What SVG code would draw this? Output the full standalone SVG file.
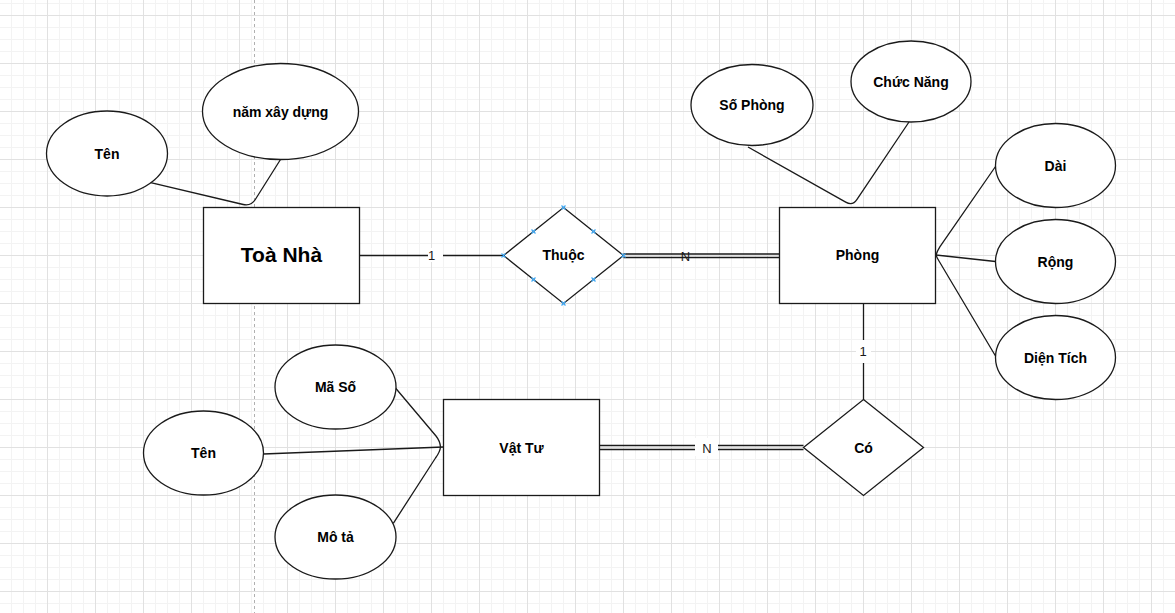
<svg xmlns="http://www.w3.org/2000/svg" width="1175" height="613" viewBox="0 0 1175 613">
  <defs>
    <pattern id="grid" patternUnits="userSpaceOnUse" x="47" y="15" width="48" height="48">
      <path d="M12.5,0V48M24.5,0V48M36.5,0V48M0,12.5H48M0,24.5H48M0,36.5H48" stroke="#f3f3f3" stroke-width="1" fill="none"/>
      <path d="M0.5,0V48M0,0.5H48" stroke="#e1e1e1" stroke-width="1" fill="none"/>
    </pattern>
    <g id="xmark">
      <path d="M-2,-2L2,2M-2,2L2,-2" stroke="#3fa9f5" stroke-width="1.2"/>
    </g>
  </defs>
  <style>
    .ent { fill: #ffffff; stroke: #1a1a1a; stroke-width: 1.3; }
    .attr { fill: #ffffff; stroke: #1a1a1a; stroke-width: 1.3; }
    .rel { fill: #ffffff; stroke: #1a1a1a; stroke-width: 1.3; }
    .lbl { font-family: "Liberation Sans", Arial, sans-serif; font-weight: bold; font-size: 14px; fill: #000000; text-anchor: middle; }
    .big { font-size: 21px; }
    .edge { fill: none; stroke: #1a1a1a; stroke-width: 1.3; }
    .card { font-family: "Liberation Sans", Arial, sans-serif; font-size: 13px; fill: #1a1a1a; text-anchor: middle; }
  </style>

  <!-- canvas -->
  <rect x="0" y="0" width="1175" height="613" fill="#ffffff"/>
  <rect x="0" y="0" width="1175" height="613" fill="url(#grid)"/>
  <line x1="254.5" y1="0" x2="254.5" y2="613" stroke="#b0b0b0" stroke-width="1" stroke-dasharray="3,3"/>

  <!-- connectors -->
  <g id="connectors">
    <!-- Toà Nhà attributes -->
    <path class="edge" d="M150.7,182.7 L243.2,204.5 Q251,206.3 255.3,199.5 L280.5,159.5"/>
    <!-- Toà Nhà - Thuộc -->
    <line class="edge" x1="359.5" y1="255.5" x2="503.5" y2="255.5"/>
    <rect x="428" y="248" width="15" height="14" fill="#ffffff"/>
    <text class="card" x="431.5" y="260">1</text>
    <!-- Thuộc - Phòng (double) -->
    <line class="edge" x1="623.5" y1="254" x2="779.5" y2="254"/>
    <line class="edge" x1="623.5" y1="257.5" x2="779.5" y2="257.5"/>
    <text class="card" x="685.5" y="260.5">N</text>
    <!-- Phòng attributes -->
    <path class="edge" d="M748,147 L845.7,202.1 Q852.6,206.1 857,199.4 L909,122"/>
    <path class="edge" d="M936,255 Q937,251.5 940,246.7 L995.5,166.5"/>
    <line class="edge" x1="936" y1="255" x2="995.5" y2="261.5"/>
    <path class="edge" d="M936,255 Q937,258 939,261 L995.5,356"/>
    <!-- Phòng - Có -->
    <line class="edge" x1="863.5" y1="303.5" x2="863.5" y2="399.5"/>
    <rect x="856" y="340" width="15" height="23" fill="#ffffff"/>
    <text class="card" x="863" y="356">1</text>
    <!-- Vật Tư - Có (double) -->
    <line class="edge" x1="599.5" y1="445.5" x2="803.5" y2="445.5"/>
    <line class="edge" x1="599.5" y1="449.5" x2="803.5" y2="449.5"/>
    <rect x="695" y="438" width="23" height="18" fill="#ffffff"/>
    <text class="card" x="707" y="452.5">N</text>
    <!-- Vật Tư attributes -->
    <path class="edge" d="M395.5,388 L436,436 Q440,441 440.5,447"/>
    <line class="edge" x1="263.3" y1="454" x2="443.5" y2="447"/>
    <path class="edge" d="M393.3,523.3 L435.5,458 Q440,452 440.5,447"/>
  </g>

  <!-- Toà Nhà -->
  <g id="toa-nha">
    <rect class="ent" x="203.5" y="207.5" width="156" height="96"/>
    <text class="lbl big" x="281.5" y="262">Toà Nhà</text>
  </g>
  <g id="toa-nha-ten">
    <ellipse class="attr" cx="107" cy="153.5" rx="60.5" ry="42.5"/>
    <text class="lbl" x="107" y="158.5">Tên</text>
  </g>
  <g id="nam-xay-dung">
    <ellipse class="attr" cx="280.5" cy="111.5" rx="78" ry="48"/>
    <text class="lbl" x="280.5" y="116.5">năm xây dựng</text>
  </g>

  <!-- Thuộc -->
  <g id="thuoc">
    <polygon class="rel" points="563.5,207.5 623.5,255.5 563.5,303.5 503.5,255.5"/>
    <text class="lbl" x="563.5" y="260">Thuộc</text>
    <use href="#xmark" x="563.5" y="207.5"/>
    <use href="#xmark" x="623.5" y="255.5"/>
    <use href="#xmark" x="563.5" y="303.5"/>
    <use href="#xmark" x="503.5" y="255.5"/>
    <use href="#xmark" x="533.5" y="231.5"/>
    <use href="#xmark" x="593.5" y="231.5"/>
    <use href="#xmark" x="533.5" y="279.5"/>
    <use href="#xmark" x="593.5" y="279.5"/>
  </g>

  <!-- Phòng -->
  <g id="phong">
    <rect class="ent" x="779.5" y="207.5" width="156" height="96"/>
    <text class="lbl" x="857.5" y="260">Phòng</text>
  </g>
  <g id="so-phong">
    <ellipse class="attr" cx="752" cy="105" rx="61" ry="40.5"/>
    <text class="lbl" x="752" y="110">Số Phòng</text>
  </g>
  <g id="chuc-nang">
    <ellipse class="attr" cx="911" cy="81.5" rx="60" ry="40.5"/>
    <text class="lbl" x="911" y="86.5">Chức Năng</text>
  </g>
  <g id="dai">
    <ellipse class="attr" cx="1055.5" cy="165.5" rx="60" ry="42"/>
    <text class="lbl" x="1055.5" y="170.5">Dài</text>
  </g>
  <g id="rong">
    <ellipse class="attr" cx="1055.5" cy="261.5" rx="60" ry="42"/>
    <text class="lbl" x="1055.5" y="266.5">Rộng</text>
  </g>
  <g id="dien-tich">
    <ellipse class="attr" cx="1055.5" cy="357.5" rx="60" ry="42"/>
    <text class="lbl" x="1055.5" y="362.5">Diện Tích</text>
  </g>

  <!-- Có -->
  <g id="co">
    <polygon class="rel" points="863.5,399.5 923.5,447.5 863.5,495.5 803.5,447.5"/>
    <text class="lbl" x="863.5" y="452.5">Có</text>
  </g>

  <!-- Vật Tư -->
  <g id="vat-tu">
    <rect class="ent" x="443.5" y="399.5" width="156" height="96"/>
    <text class="lbl" x="521.5" y="452.5">Vật Tư</text>
  </g>
  <g id="ma-so">
    <ellipse class="attr" cx="335.5" cy="387" rx="60.5" ry="42"/>
    <text class="lbl" x="335.5" y="392">Mã Số</text>
  </g>
  <g id="vat-tu-ten">
    <ellipse class="attr" cx="203.5" cy="453" rx="60" ry="42"/>
    <text class="lbl" x="203.5" y="458">Tên</text>
  </g>
  <g id="mo-ta">
    <ellipse class="attr" cx="335.5" cy="537" rx="60.5" ry="42"/>
    <text class="lbl" x="335.5" y="542">Mô tả</text>
  </g>
</svg>
